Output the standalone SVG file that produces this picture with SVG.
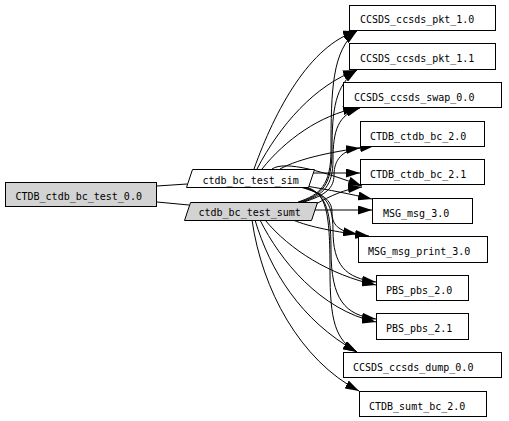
<svg xmlns="http://www.w3.org/2000/svg" width="509" height="421" viewBox="0 0 509 421">
<defs>
<style>
.n rect, .n polygon { stroke: #000; stroke-width: 1; fill: #fff; }
.n.g rect, .n.g polygon { fill: #d3d3d3; }
text { font-family: "DejaVu Sans Mono", "Liberation Mono", monospace; font-size: 10px; fill: #000; }
#edges path { fill: none; stroke: #000; stroke-width: 1; }
#edges path.a { marker-end: url(#ah); }
</style>
<marker id="ah" markerWidth="14" markerHeight="9" refX="14" refY="4.5" orient="auto" markerUnits="userSpaceOnUse">
<path d="M0,0 L14,4.5 L0,9 z" fill="#000"/>
</marker>
</defs>
<rect width="509" height="421" fill="#fff"/>
<g id="edges">
<path d="M157,186 L187,184"/>
<path d="M157,202 L189,205"/>
<path class="a" d="M254,169 C275,110 310,45 357,31"/>
<path class="a" d="M257,169 C280,125 315,85 357,70"/>
<path class="a" d="M262,169 C285,140 320,115 357,108"/>
<path class="a" d="M280,169 C300,158 335,151 374,146"/>
<path class="a" d="M311,173 L360,173"/>
<path class="a" d="M272,169 C285,160 325,172 362,186"/>
<path class="a" d="M306,186 C330,190 350,194 372,199"/>
<path class="a" d="M300,187 C322,193 332,200 332,212 C332,225 338,231 357,234"/>
<path class="a" d="M302,187 C322,193 333,200 333,230 C333,265 345,278 376,282"/>
<path class="a" d="M304,187 C324,193 331,205 331,250 C331,300 345,315 376,319"/>
<path class="a" d="M306,187 C326,193 330,210 330,270 C330,320 335,340 357,352"/>
<path class="a" d="M298,202 C320,195 331,185 331,150 C331,90 332,50 357,31"/>
<path class="a" d="M300,202 C322,195 332,185 332,150 C332,110 335,85 357,70"/>
<path class="a" d="M302,202 C324,195 333,185 333,160 C333,130 338,115 360,108"/>
<path class="a" d="M304,202 C326,195 334,188 334,175 C334,160 342,150 360,148"/>
<path class="a" d="M316,204 C330,196 345,189 362,187"/>
<path class="a" d="M314,210 L372,210"/>
<path class="a" d="M293,220 C310,227 335,232 369,236"/>
<path class="a" d="M265,220 C290,250 330,275 376,285"/>
<path class="a" d="M260,220 C280,260 320,310 376,322"/>
<path class="a" d="M255,220 C270,270 300,320 357,352"/>
<path class="a" d="M252,220 C262,290 300,360 359,391"/>
</g>
<g id="CTDB_ctdb_bc_test_0_0" class="n g"><rect x="5.5" y="182.5" width="151" height="24"/><text x="15.5" y="200">CTDB_ctdb_bc_test_0.0</text></g>
<g id="ctdb_bc_test_sim" class="n"><polygon points="192.5,169.5 314.5,169.5 308.5,187.5 186.5,187.5"/><text x="202.5" y="183.5">ctdb_bc_test_sim</text></g>
<g id="ctdb_bc_test_sumt" class="n g"><polygon points="190.5,202.5 317.5,202.5 311.5,220.5 184.5,220.5"/><text x="198.5" y="215.5">ctdb_bc_test_sumt</text></g>
<g id="CCSDS_ccsds_pkt_1_0" class="n"><rect x="349.5" y="5.5" width="146" height="25"/><text x="360" y="23">CCSDS_ccsds_pkt_1.0</text></g>
<g id="CCSDS_ccsds_pkt_1_1" class="n"><rect x="349.5" y="43.5" width="146" height="26"/><text x="360" y="61.5">CCSDS_ccsds_pkt_1.1</text></g>
<g id="CCSDS_ccsds_swap_0_0" class="n"><rect x="343.5" y="82.5" width="158" height="25"/><text x="354" y="100.5">CCSDS_ccsds_swap_0.0</text></g>
<g id="CTDB_ctdb_bc_2_0" class="n"><rect x="360.5" y="121.5" width="124" height="25"/><text x="370" y="139.5">CTDB_ctdb_bc_2.0</text></g>
<g id="CTDB_ctdb_bc_2_1" class="n"><rect x="360.5" y="159.5" width="124" height="25"/><text x="370" y="177.5">CTDB_ctdb_bc_2.1</text></g>
<g id="MSG_msg_3_0" class="n"><rect x="372.5" y="198.5" width="100" height="25"/><text x="383" y="216.5">MSG_msg_3.0</text></g>
<g id="MSG_msg_print_3_0" class="n"><rect x="358.5" y="236.5" width="129" height="26"/><text x="368" y="254.5">MSG_msg_print_3.0</text></g>
<g id="PBS_pbs_2_0" class="n"><rect x="376.5" y="275.5" width="92" height="25"/><text x="386" y="293.5">PBS_pbs_2.0</text></g>
<g id="PBS_pbs_2_1" class="n"><rect x="376.5" y="313.5" width="92" height="26"/><text x="386" y="331.5">PBS_pbs_2.1</text></g>
<g id="CCSDS_ccsds_dump_0_0" class="n"><rect x="343.5" y="352.5" width="158" height="25"/><text x="353" y="370.5">CCSDS_ccsds_dump_0.0</text></g>
<g id="CTDB_sumt_bc_2_0" class="n"><rect x="359.5" y="391.5" width="127" height="25"/><text x="369" y="409.5">CTDB_sumt_bc_2.0</text></g>
</svg>
